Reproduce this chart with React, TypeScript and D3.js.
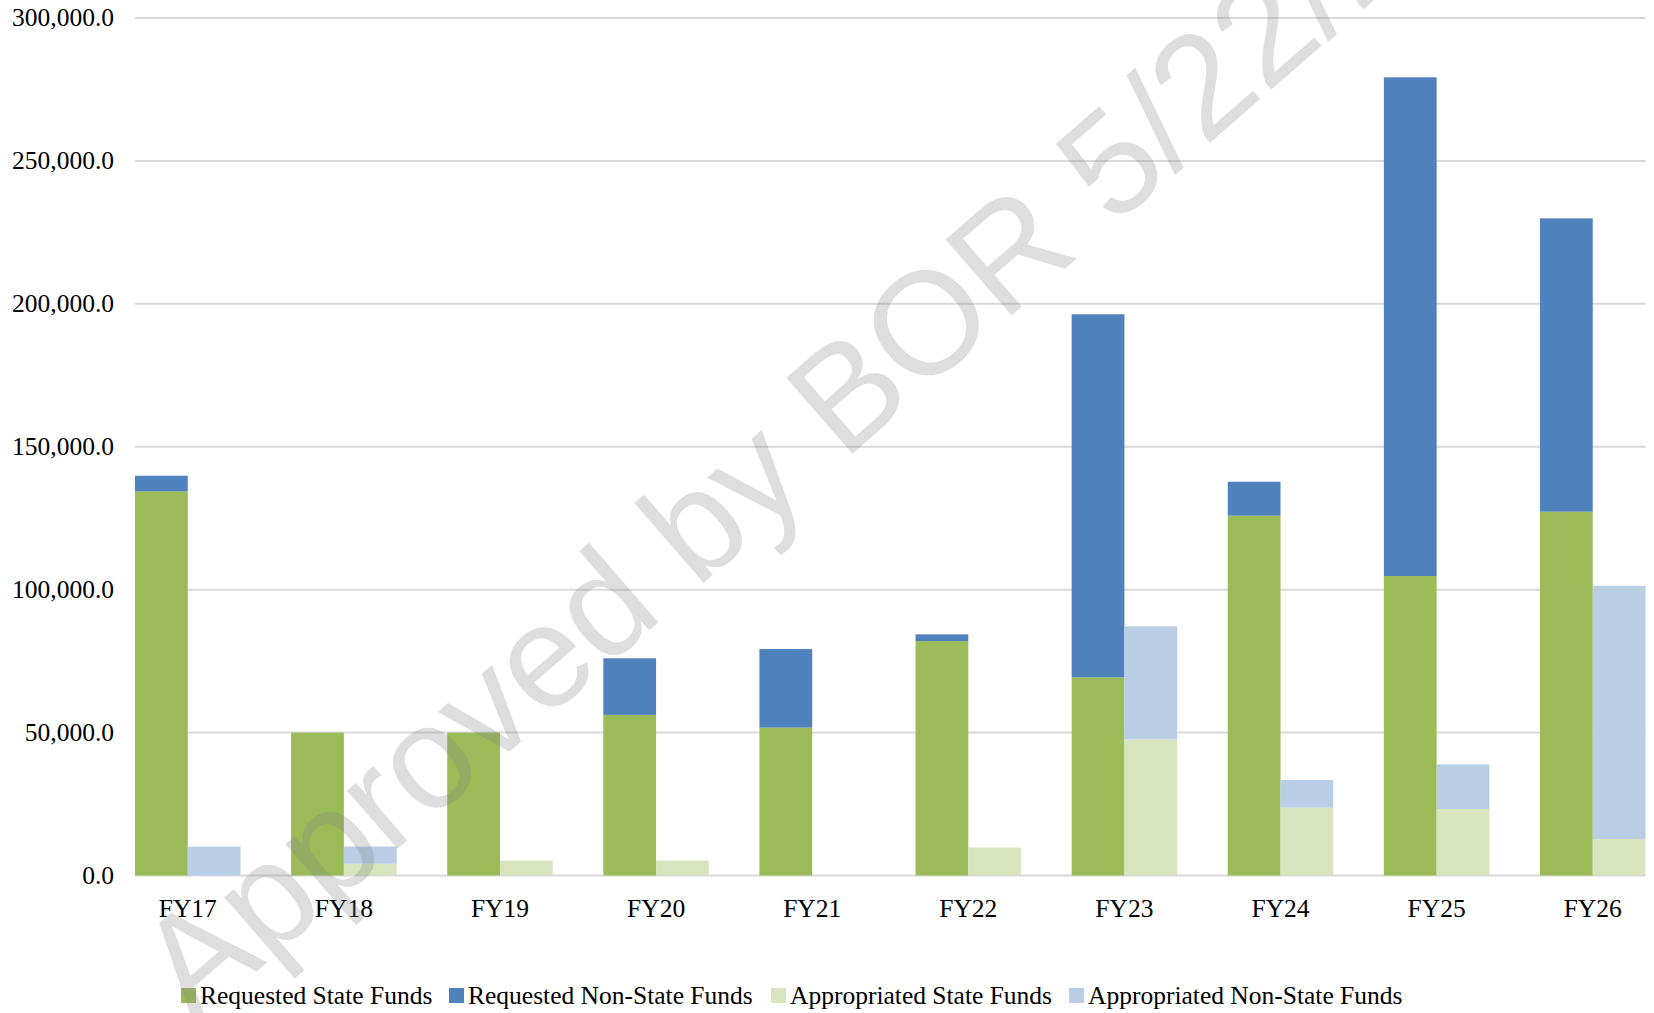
import React, { useEffect } from "react";
import * as d3 from "d3";

const categories = ["FY17", "FY18", "FY19", "FY20", "FY21", "FY22", "FY23", "FY24", "FY25", "FY26"];
const requestedState = [134400, 50000, 50000, 56200, 51750, 82000, 69340, 125880, 104780, 127280];
const requestedNonState = [5460, 0, 0, 19790, 27480, 2370, 127000, 11890, 174470, 102640];
const appropriatedState = [0, 4100, 5200, 5250, 0, 9800, 47650, 23720, 23270, 12770];
const appropriatedNonState = [10100, 6040, 0, 0, 0, 0, 39530, 9690, 15630, 88620];
const yTicks = [0, 50000, 100000, 150000, 200000, 250000, 300000];
const seriesNames = ["Requested State Funds", "Requested Non-State Funds", "Appropriated State Funds", "Appropriated Non-State Funds"];
const seriesColors = ["#9BBB59", "#4F81BD", "#D7E4BD", "#B9CDE5"];
const watermarkText = "Approved by BOR 5/22/2025";

const W = 1654;
const H = 1013;
const plotLeft = 135;
const plotRight = 1645.5;
const plotTop = 18;
const plotBottom = 875.5;
const legendX = [181, 449, 771, 1069];

export default function App() {
  useEffect(() => {
    document.body.style.margin = "0";
  }, []);

  const x = d3.scaleBand<string>().domain(categories).range([plotLeft, plotRight]).paddingInner(0.324).paddingOuter(0);
  const sub = d3.scaleBand<string>().domain(["req", "app"]).range([0, x.bandwidth()]).padding(0);
  const y = d3.scaleLinear().domain([0, 300000]).range([plotBottom, plotTop]);
  const fmt = d3.format(",.1f");

  const rows = categories.map((c, i) => ({
    cat: c,
    rs: requestedState[i],
    rn: requestedNonState[i],
    as: appropriatedState[i],
    an: appropriatedNonState[i],
  }));
  const reqStack = d3.stack<any>().keys(["rs", "rn"])(rows);
  const appStack = d3.stack<any>().keys(["as", "an"])(rows);

  const font = "'Liberation Serif', 'Times New Roman', serif";

  const bars: JSX.Element[] = [];
  reqStack.forEach((layer, li) => {
    layer.forEach((d, i) => {
      const h = y(d[0]) - y(d[1]);
      if (h <= 0) return;
      bars.push(
        <rect key={`r${li}-${i}`} x={(x(categories[i]) as number) + (sub("req") as number)} y={y(d[1])}
          width={sub.bandwidth()} height={h} fill={seriesColors[li]} />
      );
    });
  });
  appStack.forEach((layer, li) => {
    layer.forEach((d, i) => {
      const h = y(d[0]) - y(d[1]);
      if (h <= 0) return;
      bars.push(
        <rect key={`a${li}-${i}`} x={(x(categories[i]) as number) + (sub("app") as number)} y={y(d[1])}
          width={sub.bandwidth()} height={h} fill={seriesColors[li + 2]} />
      );
    });
  });

  const angle = -41;

  return (
    <svg width={W} height={H} style={{ position: "absolute", left: 0, top: 0, background: "#fff" }}>
      <rect x={0} y={0} width={W} height={H} fill="#fff" />
      {yTicks.map((t) => (
        <line key={`g${t}`} x1={plotLeft} x2={plotRight} y1={y(t)} y2={y(t)} stroke="#d9d9d9" strokeWidth={2} />
      ))}
      {yTicks.map((t) => (
        <text key={`yl${t}`} x={114} y={y(t)} dy="0.33em" textAnchor="end" fontFamily={font} fontSize={25.5} fill="#000">
          {fmt(t)}
        </text>
      ))}
      {bars}
      {categories.map((c) => (
        <text key={`xl${c}`} x={(x(c) as number) + x.bandwidth() / 2} y={917} textAnchor="middle" fontFamily={font} fontSize={25.5} fill="#000">
          {c}
        </text>
      ))}
      {seriesNames.map((n, i) => (
        <g key={`lg${i}`}>
          <rect x={legendX[i]} y={988} width={15} height={15} fill={seriesColors[i]} />
          <text x={legendX[i] + 19} y={1004} fontFamily={font} fontSize={25.5} fill="#000">{n}</text>
        </g>
      ))}
      <text
        x={0}
        y={0}
        transform={`translate(${194},${1026}) rotate(${angle})`}
        fontFamily="'Liberation Sans', Arial, sans-serif"
        fontSize={146}
        fill="#7f7f7f"
        fillOpacity={0.26}
      >
        {watermarkText}
      </text>
    </svg>
  );
}
